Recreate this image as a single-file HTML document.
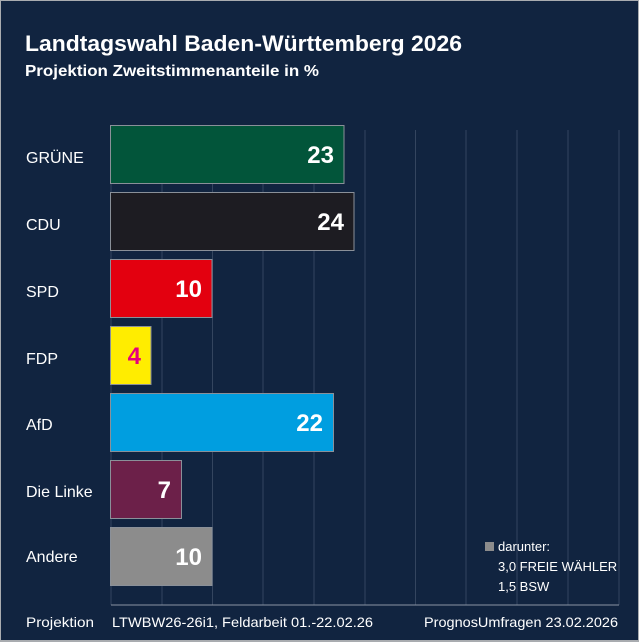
<!DOCTYPE html>
<html><head><meta charset="utf-8"><style>
html,body{margin:0;padding:0;background:#ccc}
svg{display:block}
text{font-family:"Liberation Sans",sans-serif}
</style></head><body>
<svg width="639" height="642" viewBox="0 0 639 642" xmlns="http://www.w3.org/2000/svg">
<rect x="0" y="0" width="639" height="642" fill="#a9acb0"/>
<rect x="1" y="1" width="637" height="639" fill="#112440"/>
<text x="25" y="51" font-size="22" font-weight="bold" fill="#fff" textLength="437" lengthAdjust="spacingAndGlyphs">Landtagswahl Baden-Württemberg 2026</text>
<text x="25" y="76" font-size="15.5" font-weight="bold" fill="#fff" textLength="294" lengthAdjust="spacingAndGlyphs">Projektion Zweitstimmenanteile in %</text>
<g stroke="#34455f" stroke-width="1">
<line x1="111" y1="130" x2="111" y2="605"/><line x1="162" y1="130" x2="162" y2="605"/>
<line x1="212.5" y1="130" x2="212.5" y2="605"/><line x1="263" y1="130" x2="263" y2="605"/>
<line x1="314" y1="130" x2="314" y2="605"/><line x1="365" y1="130" x2="365" y2="605"/>
<line x1="415.5" y1="130" x2="415.5" y2="605"/><line x1="466" y1="130" x2="466" y2="605"/>
<line x1="517" y1="130" x2="517" y2="605"/><line x1="568" y1="130" x2="568" y2="605"/>
<line x1="619" y1="130" x2="619" y2="605"/>
</g>
<line x1="111" y1="605" x2="619" y2="605" stroke="#8a93a3" stroke-width="1"/>
<g stroke="#8a9099" stroke-width="1">
<rect x="110.5" y="125.5" width="233.5" height="58" fill="#02553a"/>
<rect x="110.5" y="192.5" width="243.5" height="58" fill="#1d1c22"/>
<rect x="110.5" y="259.5" width="101.5" height="58" fill="#e3000f"/>
<rect x="110.5" y="326.5" width="40.5" height="58" fill="#ffed00"/>
<rect x="110.5" y="393.5" width="223" height="58" fill="#009ee0"/>
<rect x="110.5" y="460.5" width="71" height="58" fill="#6c2049"/>
<rect x="110.5" y="527.5" width="101.5" height="58" fill="#8c8c8c"/>
</g>
<g font-size="24" font-weight="bold" fill="#fff" text-anchor="end">
<text x="334" y="163">23</text>
<text x="344" y="230">24</text>
<text x="202" y="297">10</text>
<text x="141" y="364" fill="#e6007e">4</text>
<text x="323" y="431">22</text>
<text x="171" y="498">7</text>
<text x="202" y="565">10</text>
</g>
<g font-size="16" fill="#fff">
<text x="26" y="163">GRÜNE</text>
<text x="26" y="230">CDU</text>
<text x="26" y="297">SPD</text>
<text x="26" y="364">FDP</text>
<text x="26" y="430">AfD</text>
<text x="26" y="497">Die Linke</text>
<text x="26" y="562">Andere</text>
</g>
<rect x="485" y="542" width="9" height="9" fill="#8c8c8c"/>
<g font-size="13" fill="#fff">
<text x="498" y="551">darunter:</text>
<text x="498" y="571">3,0 FREIE WÄHLER</text>
<text x="498" y="591">1,5 BSW</text>
</g>
<g font-size="14" fill="#fff">
<text x="26" y="627" textLength="68" lengthAdjust="spacingAndGlyphs">Projektion</text>
<text x="112" y="627" textLength="261" lengthAdjust="spacingAndGlyphs">LTWBW26-26i1, Feldarbeit 01.-22.02.26</text>
<text x="618" y="627" text-anchor="end" textLength="194" lengthAdjust="spacingAndGlyphs">PrognosUmfragen 23.02.2026</text>
</g>
</svg>
</body></html>
